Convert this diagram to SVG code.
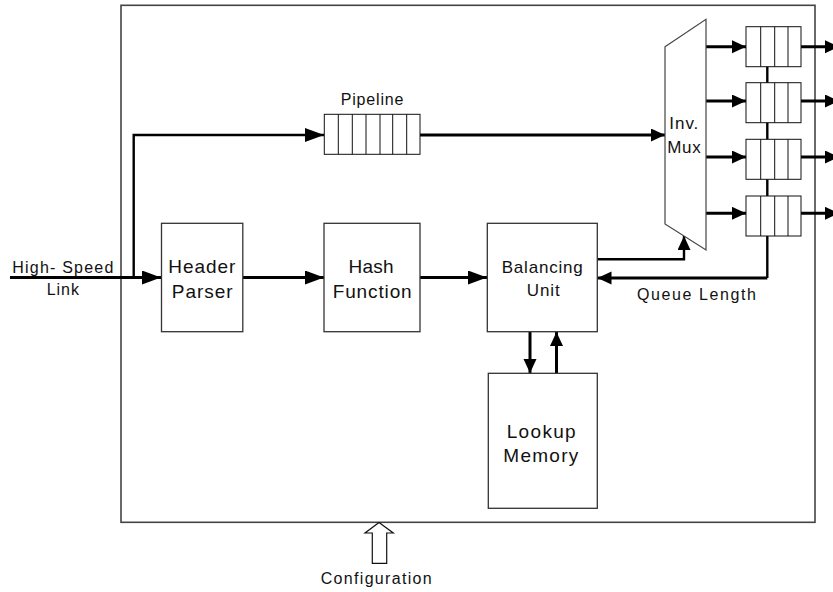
<svg xmlns="http://www.w3.org/2000/svg" xmlns:xlink="http://www.w3.org/1999/xlink" width="833" height="592" viewBox="0 0 833 592">
  <style>
    .box { fill: #fff; stroke: #333; stroke-width: 1.3; }
    .cell { fill: #fff; stroke: #111; stroke-width: 1; }
    .div { stroke: #111; stroke-width: 1; }
    .wire { fill: none; stroke: #000; stroke-width: 3; }
    .thin { fill: none; stroke: #000; stroke-width: 2.4; }
    text { font-family: "Liberation Sans", Arial, sans-serif; fill: #111; }
    .big { font-size: 19px; }
    .mid { font-size: 17px; }
    .sm { font-size: 16px; }
  </style>
  <defs>
    <marker id="headL" markerUnits="userSpaceOnUse" markerWidth="20" markerHeight="16" refX="19" refY="7" orient="auto">
      <path d="M0,0 L19,7 L0,14 Z" fill="#000"/>
    </marker>
    <marker id="headS" markerUnits="userSpaceOnUse" markerWidth="16" markerHeight="16" refX="14" refY="6.5" orient="auto">
      <path d="M0,0 L14,6.5 L0,13 Z" fill="#000"/>
    </marker>
    <!-- four-slot output queue -->
    <g id="queue4">
      <rect class="cell" x="0" y="0" width="55" height="40"/>
      <line class="div" x1="14.7" y1="0" x2="14.7" y2="40"/>
      <line class="div" x1="28.7" y1="0" x2="28.7" y2="40"/>
      <line class="div" x1="42" y1="0" x2="42" y2="40"/>
    </g>
  </defs>

  <rect width="833" height="592" fill="#fff"/>

  <!-- enclosing block -->
  <g id="frame">
    <rect x="121" y="5.3" width="694" height="517" fill="none" stroke="#444" stroke-width="1.6"/>
  </g>

  <!-- connectors -->
  <g id="connectors">
    <!-- input link -->
    <line class="wire" x1="10" y1="277.5" x2="161" y2="277.5" marker-end="url(#headL)"/>
    <!-- branch to pipeline -->
    <polyline class="thin" points="133.7,277.5 133.7,135 324,135" marker-end="url(#headL)"/>
    <!-- pipeline to mux -->
    <line class="wire" x1="420" y1="135" x2="665" y2="135" marker-end="url(#headS)"/>
    <!-- main datapath -->
    <line class="wire" x1="243" y1="277.5" x2="324" y2="277.5" marker-end="url(#headL)"/>
    <line class="wire" x1="420" y1="277.5" x2="487" y2="277.5" marker-end="url(#headL)"/>
    <!-- balancing unit to mux select -->
    <polyline class="thin" points="597,259.3 684,259.3 684,236" marker-end="url(#headS)"/>
    <!-- queue length feedback -->
    <line class="thin" x1="767.3" y1="66" x2="767.3" y2="278"/>
    <polyline class="wire" points="767.3,278 597.5,278" marker-end="url(#headS)"/>
    <!-- lookup memory access -->
    <line class="wire" x1="530" y1="332" x2="530" y2="373" marker-end="url(#headS)"/>
    <line class="wire" x1="556.5" y1="373" x2="556.5" y2="332" marker-end="url(#headS)"/>
    <!-- mux outputs to queues -->
    <line class="wire" x1="706" y1="46.7" x2="746" y2="46.7" marker-end="url(#headS)"/>
    <line class="wire" x1="706" y1="101" x2="746" y2="101" marker-end="url(#headS)"/>
    <line class="wire" x1="706" y1="157" x2="746" y2="157" marker-end="url(#headS)"/>
    <line class="wire" x1="706" y1="213.3" x2="746" y2="213.3" marker-end="url(#headS)"/>
    <!-- queue outputs -->
    <line class="wire" x1="801" y1="46.7" x2="839" y2="46.7" marker-end="url(#headS)"/>
    <line class="wire" x1="801" y1="101" x2="839" y2="101" marker-end="url(#headS)"/>
    <line class="wire" x1="801" y1="157" x2="839" y2="157" marker-end="url(#headS)"/>
    <line class="wire" x1="801" y1="213.3" x2="839" y2="213.3" marker-end="url(#headS)"/>
  </g>

  <!-- link label -->
  <g id="link-label">
    <text class="sm" x="12.3" y="273.3" textLength="101" lengthAdjust="spacing">High- Speed</text>
    <text class="sm" x="46.7" y="295" textLength="32.3" lengthAdjust="spacing">Link</text>
  </g>

  <g id="header-parser">
    <rect class="box" x="161.5" y="223.3" width="81.3" height="108.4"/>
    <text class="big" x="168.3" y="273.3" textLength="67" lengthAdjust="spacing">Header</text>
    <text class="big" x="171.7" y="298.3" textLength="61" lengthAdjust="spacing">Parser</text>
  </g>

  <g id="hash-function">
    <rect class="box" x="324" y="223.3" width="96" height="108.4"/>
    <text class="big" x="348.5" y="273.3" textLength="45" lengthAdjust="spacing">Hash</text>
    <text class="big" x="332.7" y="298.3" textLength="79" lengthAdjust="spacing">Function</text>
  </g>

  <g id="balancing-unit">
    <rect class="box" x="487.3" y="223.3" width="110" height="108.4"/>
    <text class="mid" x="501.7" y="273.3" textLength="81" lengthAdjust="spacing">Balancing</text>
    <text class="mid" x="526.7" y="296" textLength="33" lengthAdjust="spacing">Unit</text>
  </g>

  <g id="lookup-memory">
    <rect class="box" x="488.3" y="373.3" width="109" height="135"/>
    <text class="big" x="506.7" y="438.3" textLength="69" lengthAdjust="spacing">Lookup</text>
    <text class="big" x="503.3" y="461.7" textLength="75" lengthAdjust="spacing">Memory</text>
  </g>

  <g id="pipeline">
    <text class="sm" x="340.7" y="105" textLength="62.7" lengthAdjust="spacing">Pipeline</text>
    <rect class="cell" x="324.3" y="114.3" width="95.7" height="40"/>
    <line class="div" x1="338.3" y1="114.3" x2="338.3" y2="154.3"/>
    <line class="div" x1="352.3" y1="114.3" x2="352.3" y2="154.3"/>
    <line class="div" x1="366" y1="114.3" x2="366" y2="154.3"/>
    <line class="div" x1="380" y1="114.3" x2="380" y2="154.3"/>
    <line class="div" x1="392.7" y1="114.3" x2="392.7" y2="154.3"/>
    <line class="div" x1="406.7" y1="114.3" x2="406.7" y2="154.3"/>
  </g>

  <g id="inv-mux">
    <polygon points="665,46.7 706,19.3 706,250 665,224" fill="#fff" stroke="#444" stroke-width="1.2"/>
    <text class="mid" x="669.3" y="129.3" textLength="29" lengthAdjust="spacing">Inv.</text>
    <text class="mid" x="667.3" y="152.7" textLength="33.4" lengthAdjust="spacing">Mux</text>
  </g>

  <g id="queues">
    <use xlink:href="#queue4" x="746" y="26.7"/>
    <use xlink:href="#queue4" x="746" y="82.7"/>
    <use xlink:href="#queue4" x="746" y="139.3"/>
    <use xlink:href="#queue4" x="746" y="196"/>
  </g>

  <g id="queue-length-label">
    <text class="sm" x="637" y="300" textLength="119" lengthAdjust="spacing">Queue Length</text>
  </g>

  <g id="configuration">
    <polygon points="379,522.6 393.3,533 386.7,533 386.7,563.3 372.3,563.3 372.3,533 365,533" fill="#fff" stroke="#111" stroke-width="1.2"/>
    <text class="sm" x="320.7" y="584" textLength="111" lengthAdjust="spacing">Configuration</text>
  </g>
</svg>
